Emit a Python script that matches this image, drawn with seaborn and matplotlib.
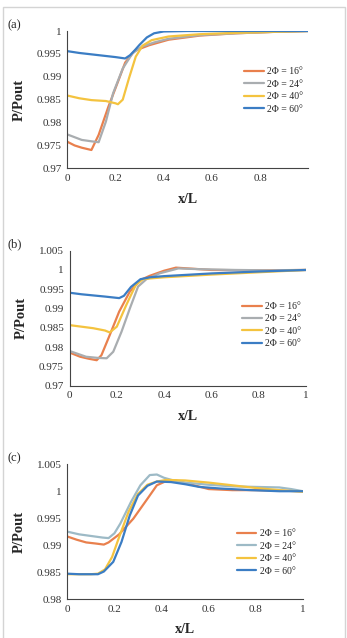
import numpy as np
import pandas as pd
import matplotlib
matplotlib.use("Agg")
import matplotlib.pyplot as plt
from matplotlib.patches import Rectangle
import seaborn as sns

# ---- data ----
labels = ["2Φ = 16°", "2Φ = 24°", "2Φ = 40°", "2Φ = 60°"]

# panel (a)
a16_x = [0, 0.03, 0.06, 0.1, 0.13, 0.17, 0.21, 0.24, 0.28, 0.34, 0.42, 0.55, 0.7, 0.85, 1.0]
a16_y = [0.9758, 0.9750, 0.9745, 0.9740, 0.9773, 0.9834, 0.9889, 0.9931, 0.9957, 0.9969, 0.9981, 0.9990, 0.9995, 0.9998, 1.0]
a24_x = [0, 0.03, 0.06, 0.1, 0.13, 0.16, 0.19, 0.23, 0.27, 0.31, 0.36, 0.42, 0.55, 0.7, 0.85, 1.0]
a24_y = [0.9774, 0.9768, 0.9762, 0.9759, 0.9757, 0.9802, 0.9864, 0.9918, 0.9951, 0.9966, 0.9975, 0.9983, 0.9991, 0.9995, 0.9998, 1.0]
a40_x = [0, 0.05, 0.1, 0.16, 0.2, 0.21, 0.23, 0.256, 0.284, 0.312, 0.35, 0.42, 0.55, 0.7, 0.85, 1.0]
a40_y = [0.9859, 0.9853, 0.9849, 0.9847, 0.9842, 0.9840, 0.9850, 0.9897, 0.9944, 0.9968, 0.9980, 0.9988, 0.9993, 0.9996, 0.9998, 1.0]
a60_x = [0, 0.05, 0.1, 0.15, 0.2, 0.24, 0.26, 0.28, 0.3, 0.33, 0.36, 0.4, 0.5, 0.7, 1.0]
a60_y = [0.9956, 0.9952, 0.9949, 0.9946, 0.9943, 0.9940, 0.9947, 0.9958, 0.9970, 0.9986, 0.9995, 0.9999, 1.0, 1.0, 1.0]

# panel (b)
b16_x = [0, 0.045, 0.08, 0.115, 0.135, 0.17, 0.21, 0.255, 0.30, 0.34, 0.4, 0.45, 0.5, 0.6, 0.8, 1.0]
b16_y = [0.9786, 0.9775, 0.9770, 0.9766, 0.9779, 0.9831, 0.9892, 0.9944, 0.9974, 0.9985, 0.9998, 1.0006, 1.0004, 1.0000, 0.9999, 1.0]
b24_x = [0, 0.07, 0.12, 0.157, 0.185, 0.22, 0.255, 0.29, 0.325, 0.38, 0.46, 0.55, 0.7, 0.85, 1.0]
b24_y = [0.9790, 0.9775, 0.9772, 0.9771, 0.9788, 0.9840, 0.9900, 0.9957, 0.9976, 0.9991, 1.0004, 1.0002, 1.0000, 0.9999, 1.0]
b40_x = [0, 0.05, 0.1, 0.15, 0.17, 0.2, 0.24, 0.28, 0.31, 0.34, 0.4, 0.6, 0.8, 1.0]
b40_y = [0.9857, 0.9853, 0.9849, 0.9843, 0.9838, 0.9853, 0.9909, 0.9961, 0.9976, 0.9978, 0.9981, 0.9988, 0.9994, 1.0]
b60_x = [0, 0.05, 0.1, 0.15, 0.21, 0.23, 0.26, 0.3, 0.34, 0.4, 0.6, 0.8, 1.0]
b60_y = [0.9941, 0.9937, 0.9934, 0.9931, 0.9927, 0.9933, 0.9956, 0.9976, 0.9981, 0.9984, 0.9991, 0.9996, 1.0]

# panel (c)
c16_x = [0, 0.04, 0.08, 0.12, 0.155, 0.175, 0.22, 0.28, 0.34, 0.38, 0.42, 0.46, 0.52, 0.6, 0.7, 0.8, 0.9, 1.0]
c16_y = [0.9916, 0.9910, 0.9905, 0.9903, 0.9901, 0.9905, 0.9920, 0.9949, 0.9986, 1.0011, 1.0019, 1.0020, 1.0013, 1.0004, 1.0002, 1.0002, 1.0001, 1.0]
c24_x = [0, 0.05, 0.1, 0.15, 0.175, 0.2, 0.225, 0.27, 0.31, 0.35, 0.38, 0.41, 0.45, 0.5, 0.6, 0.7, 0.8, 0.9, 0.95, 1.0]
c24_y = [0.9925, 0.9920, 0.9917, 0.9914, 0.9913, 0.9922, 0.9940, 0.9980, 1.0011, 1.0030, 1.0031, 1.0025, 1.0020, 1.0016, 1.0012, 1.0009, 1.0008, 1.0007, 1.0004, 1.0]
c40_x = [0, 0.05, 0.1, 0.13, 0.16, 0.19, 0.22, 0.26, 0.3, 0.34, 0.38, 0.42, 0.5, 0.6, 0.7, 0.8, 0.9, 1.0]
c40_y = [0.9846, 0.9846, 0.9846, 0.9847, 0.9855, 0.9878, 0.9915, 0.9962, 0.9995, 1.0012, 1.0018, 1.0021, 1.0020, 1.0016, 1.0011, 1.0006, 1.0002, 0.9999]
c60_x = [0, 0.05, 0.1, 0.13, 0.155, 0.195, 0.23, 0.265, 0.3, 0.34, 0.38, 0.44, 0.5, 0.56, 0.65, 0.78, 0.9, 1.0]
c60_y = [0.9847, 0.9846, 0.9846, 0.9846, 0.9851, 0.9869, 0.9906, 0.9955, 0.9992, 1.0010, 1.0018, 1.0017, 1.0013, 1.0008, 1.0005, 1.0002, 1.0000, 1.0]


def to_frame(series):
    rows = []
    for lab, (xs, ys) in zip(labels, series):
        for x, y in zip(xs, ys):
            rows.append({"x": x, "y": y, "angle": lab})
    return pd.DataFrame(rows)


sns.set_style("white")
plt.rcParams["font.family"] = ["Liberation Serif", "DejaVu Serif"]

colors_ab = ["#E9804D", "#A9ADB0", "#F4C33F", "#3B7DC4"]
colors_c = ["#E9804D", "#9DBAC6", "#F4C33F", "#3B7DC4"]

panels = [
    # tag, series, position, ylim, yticks, xticklabels, legend anchor, palette
    ("(a)", [(a16_x, a16_y), (a24_x, a24_y), (a40_x, a40_y), (a60_x, a60_y)],
     [0.194, 0.7362, 0.6945, 0.2152], (0.97, 1.0),
     [0.97, 0.975, 0.98, 0.985, 0.99, 0.995, 1.0],
     ["0", "0.2", "0.4", "0.6", "0.8", ""], (0.735, 0.567), colors_ab),
    ("(b)", [(b16_x, b16_y), (b24_x, b24_y), (b40_x, b40_y), (b60_x, b60_y)],
     [0.2003, 0.3955, 0.6816, 0.2116], (0.97, 1.005),
     [0.97, 0.975, 0.98, 0.985, 0.99, 0.995, 1.0, 1.005],
     ["0", "0.2", "0.4", "0.6", "0.8", "1"], (0.73, 0.448), colors_ab),
    ("(c)", [(c16_x, c16_y), (c24_x, c24_y), (c40_x, c40_y), (c60_x, c60_y)],
     [0.194, 0.0611, 0.679, 0.2112], (0.98, 1.005),
     [0.98, 0.985, 0.99, 0.995, 1.0, 1.005],
     ["0", "0.2", "0.4", "0.6", "0.8", "1"], (0.72, 0.345), colors_c),
]

fig = plt.figure(figsize=(3.47, 6.38), dpi=100)

# light frame around the whole figure
fig.patches.append(Rectangle((2.5 / 347, -0.05), 342 / 347, 1.05 - 7 / 638,
                             transform=fig.transFigure, fill=False,
                             edgecolor="#D4D4D4", linewidth=1.0))

for tag, series, pos, ylim, yticks, xtl, anchor, pal in panels:
    ax = fig.add_axes(pos)
    df = to_frame(series)
    sns.lineplot(data=df, x="x", y="y", hue="angle", palette=pal,
                 linewidth=1.6, ax=ax, sort=False)
    ax.set_xlim(0, 1)
    ax.set_ylim(*ylim)
    ax.set_yticks(yticks)
    ax.set_yticklabels([f"{t:g}" for t in yticks], fontsize=8)
    ax.set_xticks([0, 0.2, 0.4, 0.6, 0.8, 1.0])
    ax.set_xticklabels(xtl, fontsize=8)
    ax.tick_params(direction="in", length=3, width=0.7, colors="#333333",
                   labelcolor="#333333", pad=4)
    for side in ["top", "right"]:
        ax.spines[side].set_visible(False)
    for side in ["left", "bottom"]:
        ax.spines[side].set_color("#444444")
        ax.spines[side].set_linewidth(0.8)
    ax.set_xlabel("x/L", fontsize=10, fontweight="bold", labelpad=7)
    ax.set_ylabel("P/Pout", fontsize=10.5, fontweight="bold", labelpad=8)
    leg = ax.legend(loc="center left", bbox_to_anchor=anchor, frameon=False,
                    fontsize=7, handlelength=2.0, handletextpad=0.35,
                    labelspacing=0.35, borderpad=0, borderaxespad=0)
    for line in leg.get_lines():
        line.set_linewidth(1.6)
    bb = ax.get_position()
    fig.text(7 / 347, bb.y1 + 0.0095, tag, fontsize=9, ha="left", va="center")

fig.savefig("out.png", dpi=100)
